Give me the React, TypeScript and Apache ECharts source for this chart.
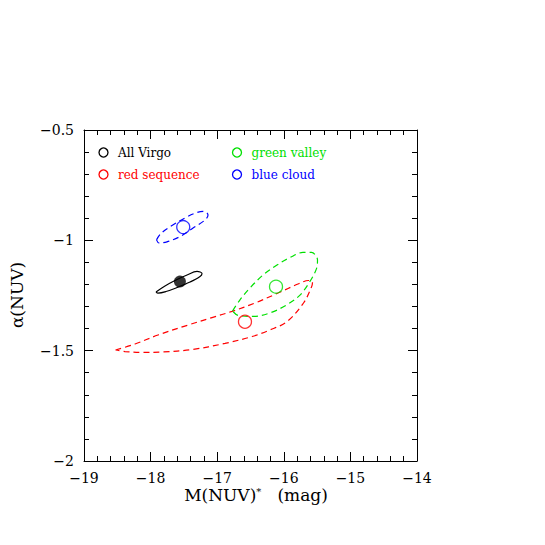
import { useEffect, useRef } from "react";
import * as echarts from "echarts";

// Axis ranges / ticks
const xRange = [-19, -14];
const yRange = [-2, -0.5];
const xStep = 1;
const yStep = 0.5;

// Axis titles
const xTitleMain = "M(NUV)";
const xTitleSup = "*";
const xTitleUnit = "(mag)";
const yTitle = "α(NUV)";

// Legend labels
const legendLabels = ["All Virgo", "red sequence", "green valley", "blue cloud"];
const colors = { all: "#000000", red: "#ff0000", green: "#00e000", blue: "#0000ff" };

// Mean positions (M(NUV), alpha)
const allVirgoPoint = [[-17.56, -1.187]];
const redPoint = [[-16.583, -1.369]];
const greenPoint = [[-16.117, -1.21]];
const bluePoint = [[-17.51, -0.94]];

// Confidence contours
const allVirgoContour = [
  [-17.919, -1.234], [-17.784, -1.207], [-17.634, -1.182], [-17.453, -1.157],
  [-17.303, -1.141], [-17.228, -1.15], [-17.258, -1.164], [-17.408, -1.189],
  [-17.604, -1.214], [-17.769, -1.232], [-17.889, -1.239], [-17.919, -1.234],
];
const blueContour = [
  [-17.911, -0.998], [-17.844, -0.969], [-17.679, -0.933], [-17.468, -0.896],
  [-17.303, -0.874], [-17.198, -0.869], [-17.138, -0.885], [-17.183, -0.908],
  [-17.363, -0.944], [-17.559, -0.983], [-17.754, -1.007], [-17.874, -1.012],
  [-17.911, -0.998],
];
const greenContour = [
  [-16.77, -1.32], [-16.658, -1.27], [-16.508, -1.216], [-16.312, -1.157],
  [-16.102, -1.112], [-15.907, -1.078], [-15.712, -1.055], [-15.584, -1.055],
  [-15.494, -1.089], [-15.509, -1.128], [-15.607, -1.186], [-15.757, -1.248],
  [-15.959, -1.293], [-16.207, -1.329], [-16.462, -1.345], [-16.688, -1.34],
  [-16.77, -1.32],
];
const redContour = [
  [-18.527, -1.497], [-18.234, -1.47], [-17.889, -1.429], [-17.438, -1.384],
  [-17.078, -1.35], [-16.778, -1.322], [-16.432, -1.284], [-16.087, -1.239],
  [-15.787, -1.198], [-15.629, -1.182], [-15.569, -1.189], [-15.584, -1.211],
  [-15.704, -1.284], [-15.952, -1.368], [-16.207, -1.406], [-16.477, -1.436],
  [-16.883, -1.467], [-17.378, -1.495], [-17.829, -1.506], [-18.129, -1.508],
  [-18.384, -1.504], [-18.527, -1.497],
];

const FONT = "DejaVu Serif";
const fmt = (v: number) => String(v).replace("-", "\u2212");

export default function App() {
  const ref = useRef<HTMLDivElement>(null);
  useEffect(() => {
    if (!ref.current) return;
    const chart = echarts.init(ref.current, undefined, { renderer: "svg" });
    const axisCommon = {
      axisLine: { show: true, onZero: false, lineStyle: { color: "#000", width: 1 } },
      axisTick: { show: true, inside: true, length: 9, lineStyle: { color: "#000", width: 1 } },
      minorTick: { show: true, splitNumber: 5, length: 5, lineStyle: { color: "#000", width: 1 } },
      splitLine: { show: false },
    };
    const lineSeries = (data: number[][], color: string, dashed: boolean) => ({
      type: "line",
      data,
      smooth: 0.35,
      showSymbol: false,
      symbol: "none",
      lineStyle: { color, width: 1.2, type: dashed ? [6, 4] : "solid" },
      z: 2,
    });
    const openPoint = (data: number[][], color: string) => ({
      type: "scatter",
      data,
      symbol: "circle",
      symbolSize: 13,
      itemStyle: { color: "rgba(0,0,0,0)", borderColor: color, borderWidth: 1.3 },
      z: 3,
    });
    const legendItems = [
      { x: 103.5, y: 152.5, color: colors.all, label: legendLabels[0] },
      { x: 103.5, y: 174.5, color: colors.red, label: legendLabels[1] },
      { x: 237, y: 152.5, color: colors.green, label: legendLabels[2] },
      { x: 237, y: 174.5, color: colors.blue, label: legendLabels[3] },
    ];
    const graphics: any[] = [];
    legendItems.forEach((it) => {
      graphics.push({
        type: "circle",
        shape: { cx: it.x, cy: it.y, r: 4.5 },
        style: { fill: "none", stroke: it.color, lineWidth: 1.3 },
      });
      graphics.push({
        type: "text",
        x: it.x + 14.5,
        y: it.y,
        style: { text: it.label, fill: it.color, font: `12px "${FONT}"`, verticalAlign: "middle", align: "left" },
      });
    });
    graphics.push({
      type: "text",
      x: 17,
      y: 295,
      rotation: Math.PI / 2,
      style: { text: yTitle, fill: "#000", font: `17px "${FONT}"`, align: "center", verticalAlign: "middle" },
    });
    graphics.push({
      type: "text",
      x: 256,
      y: 495,
      style: {
        text: `{m|${xTitleMain}}{s|${xTitleSup}}{m|   ${xTitleUnit}}`,
        align: "center",
        verticalAlign: "middle",
        rich: {
          m: { font: `17px "${FONT}"`, fill: "#000", color: "#000" },
          s: { font: `10px "${FONT}"`, fill: "#000", color: "#000", verticalAlign: "top", padding: [0, 0, 8, 0] },
        },
      },
    });

    chart.setOption({
      animation: false,
      grid: { left: 84, top: 130, width: 333, height: 331, containLabel: false },
      xAxis: [
        {
          type: "value", position: "bottom", min: xRange[0], max: xRange[1], interval: xStep,
          ...axisCommon,
          axisLabel: { show: true, formatter: fmt, color: "#000", fontFamily: FONT, fontSize: 14, margin: 10, showMinLabel: true, showMaxLabel: true },
        },
        {
          type: "value", position: "top", min: xRange[0], max: xRange[1], interval: xStep,
          ...axisCommon, axisLabel: { show: false },
        },
      ],
      yAxis: [
        {
          type: "value", position: "left", min: yRange[0], max: yRange[1], interval: yStep,
          ...axisCommon,
          axisLabel: { show: true, formatter: fmt, color: "#000", fontFamily: FONT, fontSize: 14, margin: 10, showMinLabel: true, showMaxLabel: true },
        },
        {
          type: "value", position: "right", min: yRange[0], max: yRange[1], interval: yStep,
          ...axisCommon, axisLabel: { show: false },
        },
      ],
      series: [
        lineSeries(redContour, colors.red, true),
        lineSeries(greenContour, colors.green, true),
        lineSeries(blueContour, colors.blue, true),
        lineSeries(allVirgoContour, colors.all, false),
        {
          type: "scatter", data: allVirgoPoint, symbol: "circle", symbolSize: 12,
          itemStyle: { color: colors.all }, z: 3,
        },
        openPoint(redPoint, colors.red),
        openPoint(greenPoint, colors.green),
        openPoint(bluePoint, colors.blue),
      ],
      graphic: graphics,
    });
    return () => chart.dispose();
  }, []);
  return (
    <div
      ref={ref}
      style={{ position: "fixed", left: 0, top: 0, width: 545, height: 545, background: "#fff" }}
    />
  );
}
